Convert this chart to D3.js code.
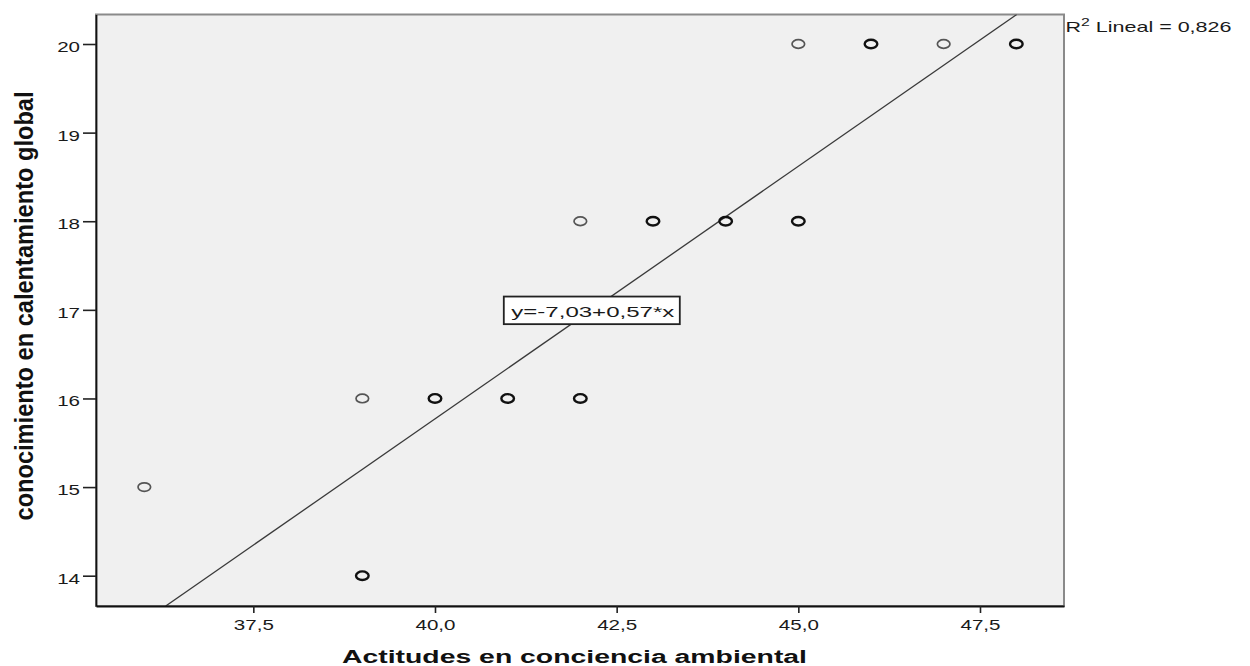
<!DOCTYPE html>
<html><head><meta charset="utf-8">
<script src="https://cdn.jsdelivr.net/npm/d3@7"></script>
<style>body{margin:0;background:#fff}svg{display:block}</style>
</head><body><svg id="c" width="1250" height="666"></svg>
<script>
// Data (each point = one or more coincident cases)
const actitudes    = [36, 39, 39, 40, 41, 42, 42, 43, 44, 45, 45, 46, 47, 48];
const conocimiento = [15, 16, 14, 16, 16, 16, 18, 18, 18, 18, 20, 20, 20, 20];
const casos        = [ 1,  1,  2,  2,  2,  2,  1,  2,  2,  2,  1,  2,  1,  2];
const xTicks = [37.5, 40, 42.5, 45, 47.5];
const yTicks = [14, 15, 16, 17, 18, 19, 20];
const intercept = -7.03, slope = 0.57, r2 = 0.826;
const xLabel = "Actitudes en conciencia ambiental";
const yLabel = "conocimiento en calentamiento global";
const xDomain = [35.335, 48.656], yDomain = [13.658, 20.333];

const SX = 1.37; // horizontal stretch of the original picture
const pLeft = 96, pRight = 1064, pTop = 14.5, pBottom = 606;
const svg = d3.select("#c");
const x = d3.scaleLinear().domain(xDomain).range([pLeft, pRight]);
const y = d3.scaleLinear().domain(yDomain).range([pBottom, pTop]);
const comma = f => v => d3.format(f)(v).replace(".", ",").replace("\u2212", "-");
const font = "'Liberation Sans', Arial, sans-serif";

svg.append("rect").attr("x", pLeft).attr("y", pTop).attr("width", pRight - pLeft).attr("height", pBottom - pTop)
  .attr("fill", "#f0f0f0").attr("stroke", "#8a8a8a").attr("stroke-width", 2);

svg.append("clipPath").attr("id", "clip").append("rect")
  .attr("x", pLeft).attr("y", pTop).attr("width", pRight - pLeft).attr("height", pBottom - pTop);

// regression line
const yl0 = yDomain[0], yl1 = yDomain[1];
const lineData = [[(yl0 - intercept) / slope, yl0], [(yl1 - intercept) / slope, yl1]];
svg.append("path").attr("clip-path", "url(#clip)")
  .attr("d", d3.line().x(d => x(d[0])).y(d => y(d[1]))(lineData))
  .attr("stroke", "#3a3a3a").attr("stroke-width", 1.3).attr("fill", "none");

// points
const pts = actitudes.map((a, i) => ({a, c: conocimiento[i], n: casos[i]}));
svg.append("g").selectAll("ellipse").data(pts).join("ellipse")
  .attr("cx", d => x(d.a)).attr("cy", d => y(d.c)).attr("rx", 6.3).attr("ry", 4.3)
  .attr("fill", "none")
  .attr("stroke", d => d.n > 1 ? "#111" : "#555")
  .attr("stroke-width", d => d.n > 1 ? 2.4 : 1.7);

// axes
const xAxis = svg.append("g").attr("transform", `translate(0,${pBottom})`)
  .call(d3.axisBottom(x).tickValues(xTicks).tickFormat(comma(".1f")).tickSize(7).tickSizeOuter(0).tickPadding(6));
const yAxis = svg.append("g").attr("transform", `translate(${pLeft},0)`)
  .call(d3.axisLeft(y).tickValues(yTicks).tickFormat(d3.format("d")).tickSize(13).tickSizeOuter(0));
[xAxis, yAxis].forEach(g => {
  g.select(".domain").attr("stroke", "#111").attr("stroke-width", 1.8);
  g.selectAll(".tick line").attr("stroke", "#222").attr("stroke-width", 1.6);
  g.selectAll("text").attr("font-family", font).attr("font-size", 15).attr("fill", "#1a1a1a")
    .attr("transform", `scale(${SX},1)`);
});
xAxis.selectAll("text").attr("dy", "0.71em");
yAxis.selectAll(".tick text").attr("x", -16 / SX).attr("dy", "0.5em");

// axis titles
svg.append("text").attr("transform", `translate(${(342 + 807) / 2},663)`)
  .attr("text-anchor", "middle").attr("font-family", font).attr("font-weight", "bold")
  .attr("font-size", 17.5).attr("textLength", 465).attr("lengthAdjust", "spacingAndGlyphs")
  .attr("fill", "#111").text(xLabel);
svg.append("text").attr("transform", `translate(33,306) scale(${SX},1) rotate(-90)`)
  .attr("text-anchor", "middle").attr("font-family", font).attr("font-weight", "bold")
  .attr("font-size", 19).attr("textLength", 429).attr("lengthAdjust", "spacingAndGlyphs")
  .attr("fill", "#111").text(yLabel);

// equation label at the line's point for y = 17
const ey = 17, ex = (ey - intercept) / slope;
const eqText = "y=" + comma(".2f")(intercept) + "+" + comma(".2f")(slope) + "*x";
const bw = 176, bh = 27.6;
svg.append("rect").attr("x", x(ex) - bw / 2).attr("y", y(ey) - bh / 2 + 0.5).attr("width", bw).attr("height", bh)
  .attr("fill", "#fff").attr("stroke", "#222").attr("stroke-width", 1.8);
svg.append("text").attr("x", x(ex) - bw / 2 + 7.5).attr("y", y(ey) + 7.4)
  .attr("font-family", font).attr("font-size", 15.5).attr("fill", "#1a1a1a")
  .attr("textLength", 163).attr("lengthAdjust", "spacingAndGlyphs").text(eqText);

// R² label
const r = svg.append("text").attr("x", pRight + 1.5).attr("y", 32.3)
  .attr("font-family", font).attr("font-size", 15).attr("fill", "#1a1a1a")
  .attr("textLength", 166).attr("lengthAdjust", "spacingAndGlyphs");
r.append("tspan").text("R");
r.append("tspan").attr("dy", -6).attr("font-size", 11).text("2");
r.append("tspan").attr("dy", 6).text(" Lineal = " + comma(".3f")(r2));
</script></body></html>
